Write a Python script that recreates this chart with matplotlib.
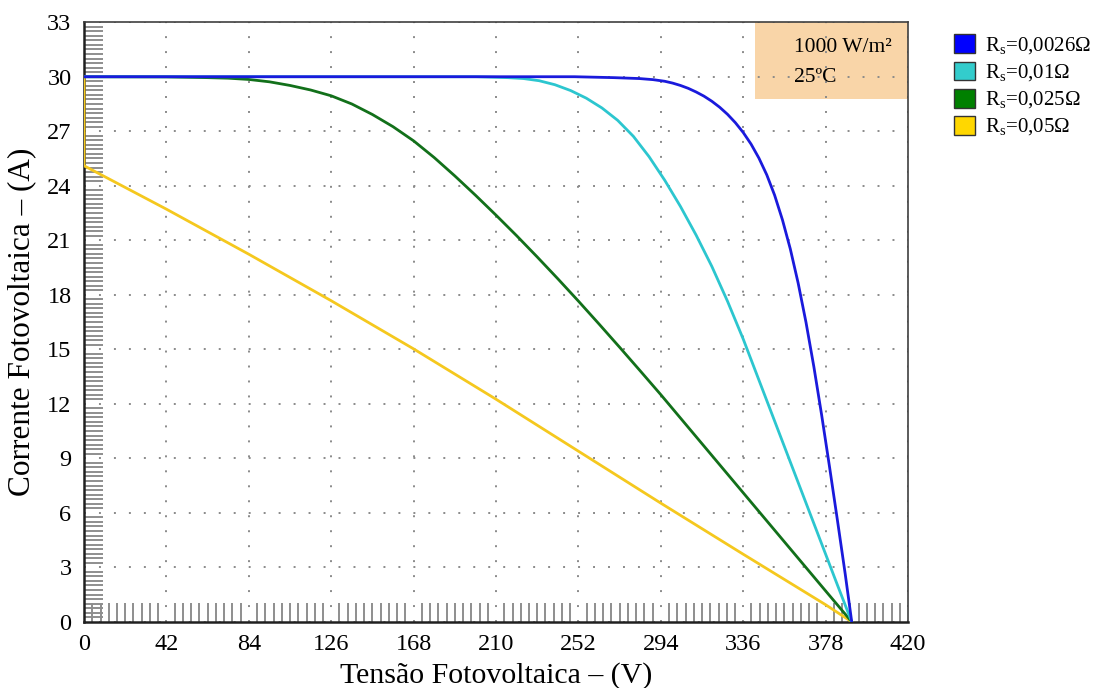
import matplotlib
matplotlib.use("Agg")
import matplotlib.pyplot as plt
from matplotlib.patches import Patch, Rectangle
from matplotlib.ticker import MultipleLocator

plt.rcParams['font.family'] = ['Liberation Serif', 'DejaVu Serif']

# Data (V, A)
v_blue = [0, 250, 270, 283, 290, 296, 300, 304, 308, 312, 316, 320, 324, 328, 332, 336, 340, 344, 348,
          352, 356, 360, 364, 368, 372, 376, 380, 384, 388, 391.3]
i_blue = [30.0, 30.0, 29.95, 29.90, 29.84, 29.75, 29.65, 29.52, 29.36, 29.16, 28.93, 28.65, 28.32, 27.93, 27.47,
          26.93, 26.29, 25.52, 24.60, 23.48, 22.12, 20.52, 18.64, 16.48, 14.04, 11.36, 8.52, 5.60, 2.62, 0.0]

v_cyan = [0, 200, 216, 224, 232, 240, 248, 256, 264, 272, 280, 288, 296, 304, 312, 320, 328, 336,
          352, 368, 384, 391.3]
i_cyan = [30.0, 30.0, 29.95, 29.9, 29.78, 29.56, 29.24, 28.82, 28.28, 27.60, 26.72, 25.60, 24.30, 22.86, 21.28,
          19.56, 17.64, 15.56, 11.05, 6.54, 2.03, 0.0]

v_green = [0, 42, 63, 73.5, 84, 94.5, 105, 115.5, 126, 136.5, 147, 157.5, 168, 178.5, 189, 199.5, 210,
           220.5, 231, 241.5, 252, 262.5, 273, 283.5, 294, 315, 336, 357, 378, 391.3]
i_green = [30.0, 29.99, 29.95, 29.92, 29.85, 29.72, 29.52, 29.27, 28.95, 28.50, 27.92, 27.25, 26.47, 25.55,
           24.54, 23.48, 22.38, 21.25, 20.08, 18.88, 17.65, 16.39, 15.11, 13.81, 12.50, 9.80, 7.10, 4.40,
           1.70, 0.0]

v_yellow = [0, 0, 42, 84, 126, 168, 210, 252, 294, 336, 378, 391.3]
i_yellow = [30.0, 25.1, 22.71, 20.23, 17.67, 15.02, 12.25, 9.39, 6.53, 3.72, 0.94, 0.0]

labels = ["R$_\\mathregular{s}$=0,0026Ω", "R$_\\mathregular{s}$=0,01Ω",
          "R$_\\mathregular{s}$=0,025Ω", "R$_\\mathregular{s}$=0,05Ω"]
x_ticks = [0, 42, 84, 126, 168, 210, 252, 294, 336, 378, 420]
y_ticks = [0, 3, 6, 9, 12, 15, 18, 21, 24, 27, 30, 33]

line_colors = ["#1a1adc", "#2cc6cf", "#12701a", "#f5c81e"]
patch_colors = ["#0000ff", "#33cccc", "#008000", "#ffd700"]

fig = plt.figure(figsize=(11.06, 6.88), dpi=100)
ax = fig.add_axes([0.0760, 0.0962, 0.745, 0.8715])

ax.set_xlim(0, 420)
ax.set_ylim(0, 33)
ax.set_xticks(x_ticks)
ax.set_yticks(y_ticks)
ax.xaxis.set_minor_locator(MultipleLocator(4.2))
ax.yaxis.set_minor_locator(MultipleLocator(0.25))
ax.tick_params(which='major', length=0, labelsize=17.5, pad=9)
ax.tick_params(which='minor', direction='in', length=14, width=1.4, color='#8e8e8e')

ax.grid(True, which='major', color='#8a8a8a', linestyle=(0, (1.0, 6.7)), linewidth=1.4)

# annotation box
ax.add_patch(Rectangle((342, 28.8), 78, 4.2, facecolor='#f9d5a8', edgecolor='none', zorder=1.5))
ax.text(362, 31.6, "1000 W/m²", fontsize=15.5, va='center', ha='left')
ax.text(362, 29.95, "25ºC", fontsize=15.5, va='center', ha='left')

for v, i, c in [(v_yellow, i_yellow, line_colors[3]), (v_green, i_green, line_colors[2]),
                (v_cyan, i_cyan, line_colors[1]), (v_blue, i_blue, line_colors[0])]:
    ax.plot(v, i, color=c, linewidth=2.0, zorder=3, solid_joinstyle='round')

for s in ['top', 'right']:
    ax.spines[s].set_color('#404040')
    ax.spines[s].set_linewidth(1.2)
for s in ['left', 'bottom']:
    ax.spines[s].set_color('#202020')
    ax.spines[s].set_linewidth(1.8)

ax.set_xlabel("Tensão Fotovoltaica – (V)", fontsize=21.5, labelpad=5)
ax.set_ylabel("Corrente Fotovoltaica – (A)", fontsize=22.5, labelpad=8)

handles = [Patch(facecolor=pc, edgecolor='#333333', linewidth=1.0) for pc in patch_colors]
fig.legend(handles, labels, loc='upper left', bbox_to_anchor=(0.855, 0.962),
           frameon=False, fontsize=15, handlelength=1.0, handleheight=1.0,
           handletextpad=0.5, labelspacing=0.25, borderaxespad=0)

fig.savefig("out.png", dpi=100)
